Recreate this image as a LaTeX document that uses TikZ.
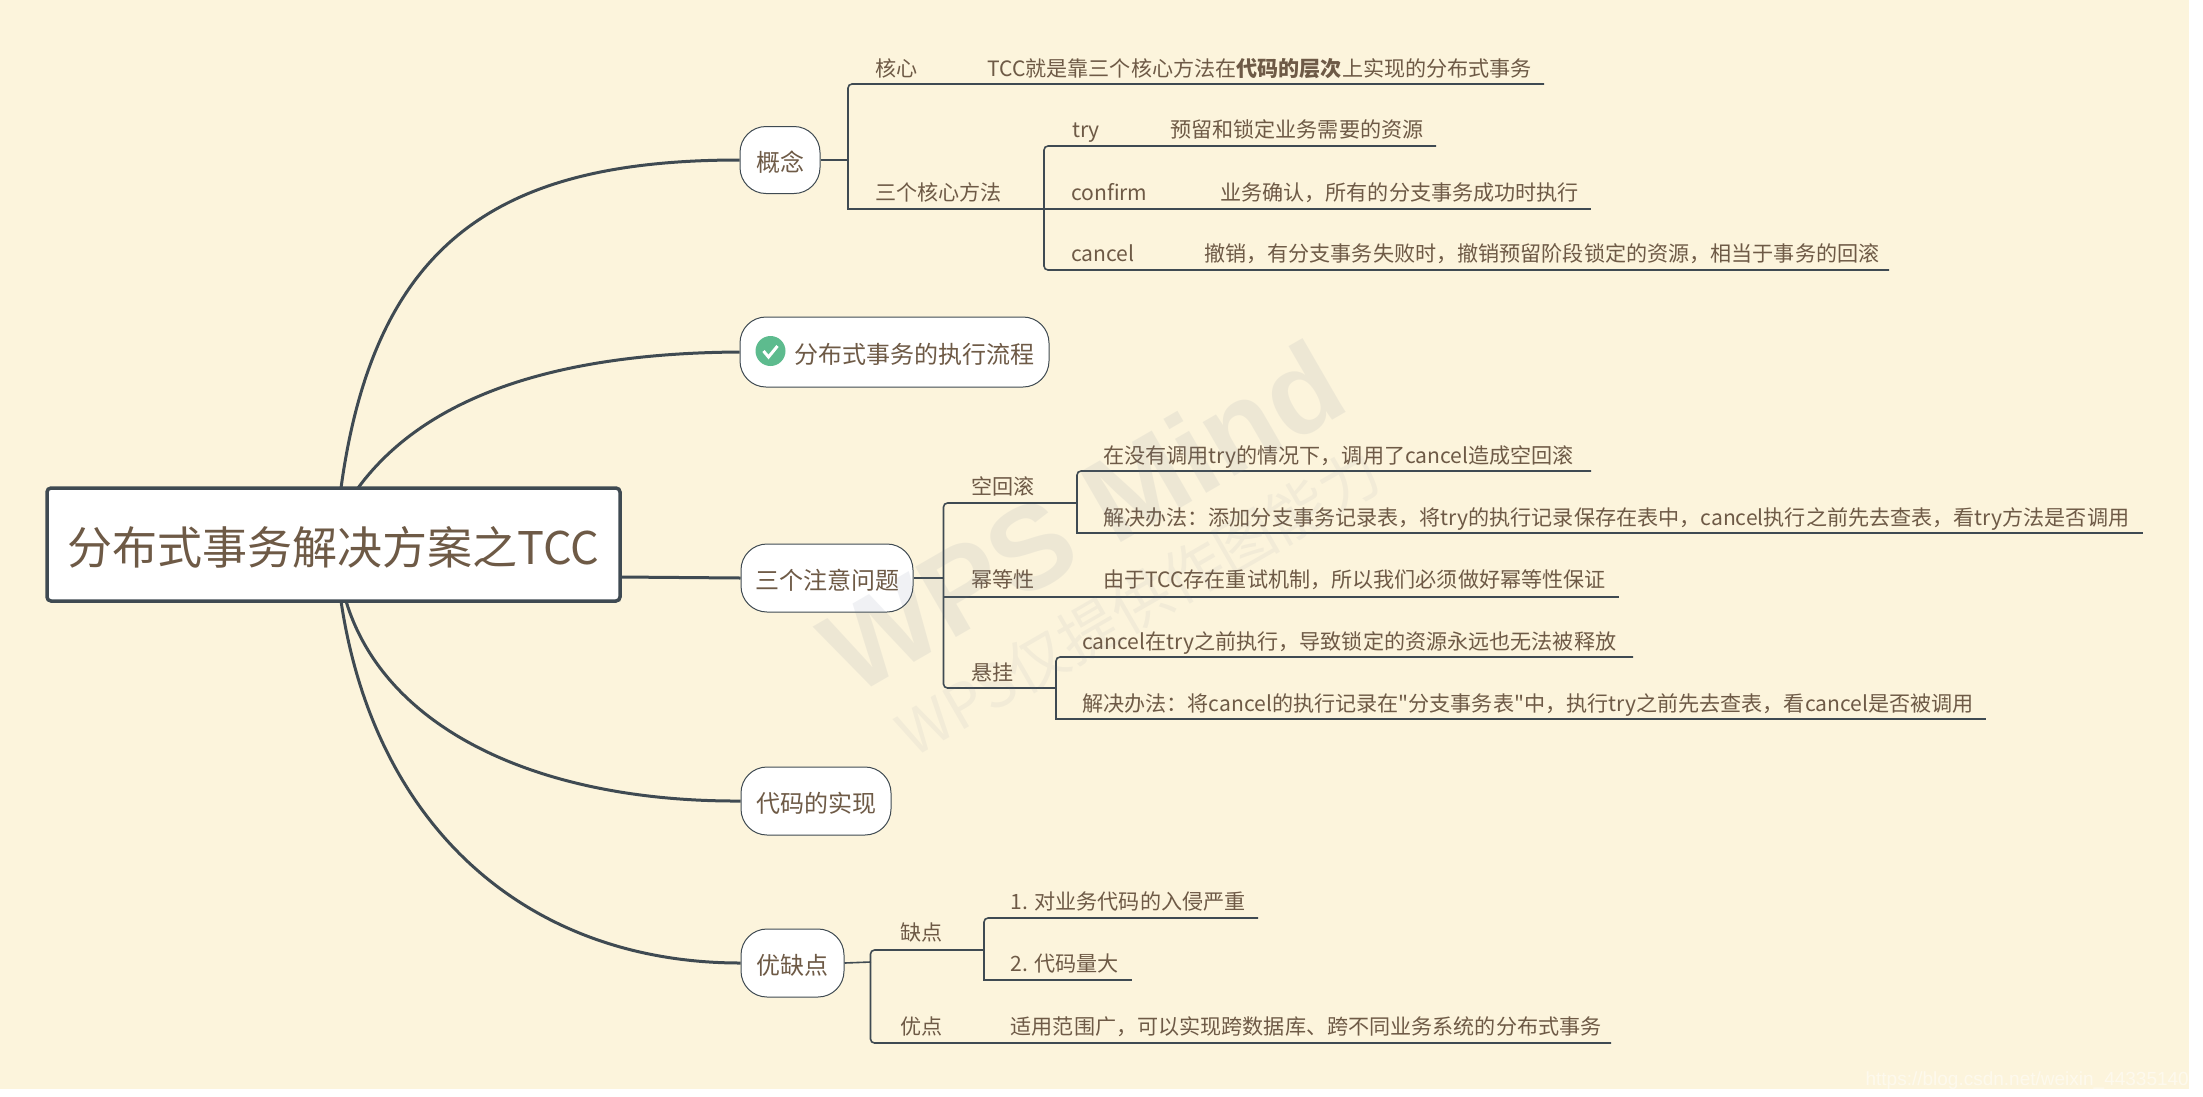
\documentclass[tikz,border=0pt]{standalone}
\usepackage{fontspec}
\setmainfont{Noto Sans CJK SC}[Ligatures=TeXOff]
\newfontfamily\wmfont{Liberation Sans}
\definecolor{paper}{HTML}{FCF4DC}
\definecolor{ink}{HTML}{6E5A46}
\definecolor{slate}{HTML}{3F4A52}
\definecolor{okgreen}{HTML}{5DBB8E}
\definecolor{wmark}{HTML}{707C96}
\tikzset{
    rootbox/.style={draw=slate, line width=3.5pt, fill=white, rounded corners=4pt, inner sep=0pt, text=ink, text height=43pt, text depth=4pt, font=\fontsize{45}{50}\selectfont},
    topic/.style={draw=slate, line width=1pt, fill=white, rounded corners=26pt, inner sep=0pt, text=ink, text height=25pt, text depth=3pt, font=\fontsize{24}{28}\selectfont},
    leaf/.style={anchor=base west, inner sep=0pt, text=ink, font=\fontsize{21.1}{25}\selectfont},
    trunk/.style={draw=slate, line width=3pt},
    branch/.style={draw=slate, line width=1.6pt},
    wm/.style={text=wmark, text opacity=0.1, inner sep=0pt, anchor=base, rotate=30}
}
\begin{document}
\begin{tikzpicture}[x=1pt, y=-1pt]
    \useasboundingbox (0,0) rectangle (2203,1096);
    \fill [paper] (0,0) rectangle (2189,1089);

    % Centre
    \node [rootbox, minimum width=573pt, minimum height=113pt] (root) at (333.5,544.5) {分布式事务解决方案之TCC};

    % Branches
    \node [topic, minimum width=80pt, minimum height=67pt] (gn) at (780,160) {概念};
    \node [topic, minimum width=309pt, minimum height=70pt] (lc) at (894.5,352) {\hspace*{40pt}分布式事务的执行流程};
    \node [topic, minimum width=172pt, minimum height=68pt] (zy) at (827,578) {三个注意问题};
    \node [topic, minimum width=150pt, minimum height=68pt] (sx) at (816,801) {代码的实现};
    \node [topic, minimum width=103pt, minimum height=68pt] (yq) at (792.5,963) {优缺点};

    % Icon
    \node [circle, fill=okgreen, minimum size=30pt, inner sep=0pt] (ok) at (770.5,351) {};
    \draw [white, line width=3pt] (ok) ++(-7,0) -- ++(5,6) -- ++(9,-11);

    % Curves from the centre
    \coordinate (rootA) at (341,488);
    \coordinate (rootB) at (358,488);
    \coordinate (rootE) at (620,577);
    \coordinate (rootC) at (346,601);
    \coordinate (rootD) at (341,601);
    \draw [trunk] (rootA) .. controls (375,240) and (500,160) .. (gn.west);
    \draw [trunk] (rootB) .. controls (430,390) and (570,353) .. (lc.west);
    \draw [trunk] (rootE) -- (zy.west);
    \draw [trunk] (rootC) .. controls (385,730) and (540,802) .. (sx.west);
    \draw [trunk] (rootD) .. controls (375,830) and (530,963) .. (yq.west);

    % Concept
    \coordinate (gnJ) at (848,160);
    \coordinate (hxL) at (848,84);
    \coordinate (hxR) at (1544,84);
    \coordinate (sfL) at (848,209);
    \coordinate (sfR) at (1044,209);
    \coordinate (tryL) at (1044,146);
    \coordinate (tryR) at (1436,146);
    \coordinate (cfmR) at (1591,209);
    \coordinate (cclL) at (1044,270);
    \coordinate (cclR) at (1889,270);
    \draw [branch] (gn.east) -- (gnJ);
    \draw [branch, rounded corners=4pt] (hxR) -- (hxL) -- (gnJ);
    \draw [branch] (gnJ) -- (sfL) -- (sfR);
    \draw [branch, rounded corners=4pt] (tryR) -- (tryL) -- (sfR);
    \draw [branch, rounded corners=4pt] (sfR) -- (cclL) -- (cclR);
    \draw [branch] (sfR) -- (cfmR);
    \node [leaf] (hx) at (875,76) {核心};
    \node [leaf] (hxT) at (987,76) {TCC就是靠三个核心方法在\textbf{代码的层次}上实现的分布式事务};
    \node [leaf] (sf) at (875,200) {三个核心方法};
    \node [leaf] (try) at (1072,137) {try};
    \node [leaf] (tryT) at (1170,137) {预留和锁定业务需要的资源};
    \node [leaf] (cfm) at (1071,200) {confirm};
    \node [leaf] (cfmT) at (1220,200) {业务确认，所有的分支事务成功时执行};
    \node [leaf] (ccl) at (1071,261) {cancel};
    \node [leaf] (cclT) at (1204,261) {撤销，有分支事务失败时，撤销预留阶段锁定的资源，相当于事务的回滚};

    % Three issues
    \coordinate (zyJ) at (943.5,578);
    \coordinate (khL) at (943.5,503);
    \coordinate (khR) at (1077,503);
    \coordinate (mdL) at (943.5,597);
    \coordinate (mdR) at (1619,597);
    \coordinate (xgL) at (943.5,688);
    \coordinate (xgR) at (1056,688);
    \coordinate (kaL) at (1077,471);
    \coordinate (kaR) at (1591,471);
    \coordinate (kbL) at (1077,533);
    \coordinate (kbR) at (2143,533);
    \coordinate (xaL) at (1056,657);
    \coordinate (xaR) at (1633,657);
    \coordinate (xbL) at (1056,719);
    \coordinate (xbR) at (1986,719);
    \draw [branch] (zy.east) -- (zyJ);
    \draw [branch, rounded corners=4pt] (khR) -- (khL) -- (zyJ);
    \draw [branch, rounded corners=4pt] (zyJ) -- (xgL) -- (xgR);
    \draw [branch] (mdL) -- (mdR);
    \draw [branch, rounded corners=4pt] (kaR) -- (kaL) -- (khR);
    \draw [branch] (khR) -- (kbL) -- (kbR);
    \draw [branch, rounded corners=4pt] (xaR) -- (xaL) -- (xgR);
    \draw [branch] (xgR) -- (xbL) -- (xbR);
    \node [leaf] (kh) at (971,494) {空回滚};
    \node [leaf] (md) at (971,587) {幂等性};
    \node [leaf] (xg) at (971,680) {悬挂};
    \node [leaf] (ka) at (1103,463) {在没有调用try的情况下，调用了cancel造成空回滚};
    \node [leaf] (kb) at (1103,525) {解决办法：添加分支事务记录表，将try的执行记录保存在表中，cancel执行之前先去查表，看try方法是否调用};
    \node [leaf] (mdT) at (1103,587) {由于TCC存在重试机制，所以我们必须做好幂等性保证};
    \node [leaf] (xa) at (1082,649) {cancel在try之前执行，导致锁定的资源永远也无法被释放};
    \node [leaf] (xb) at (1082,711) {解决办法：将cancel的执行记录在"分支事务表"中，执行try之前先去查表，看cancel是否被调用};

    % Pros and cons
    \coordinate (yqJ) at (870.5,962);
    \coordinate (qdL) at (870.5,950);
    \coordinate (qdR) at (984,950);
    \coordinate (ydL) at (870.5,1043);
    \coordinate (ydR) at (1611,1043);
    \coordinate (qaL) at (984,918);
    \coordinate (qaR) at (1258,918);
    \coordinate (qbL) at (984,980);
    \coordinate (qbR) at (1132,980);
    \draw [branch] (yq.east) -- (yqJ);
    \draw [branch, rounded corners=4pt] (qdR) -- (qdL) -- (yqJ);
    \draw [branch, rounded corners=4pt] (yqJ) -- (ydL) -- (ydR);
    \draw [branch, rounded corners=4pt] (qaR) -- (qaL) -- (qdR);
    \draw [branch] (qdR) -- (qbL) -- (qbR);
    \node [leaf] (qd) at (900,940) {缺点};
    \node [leaf] (yd) at (900,1034) {优点};
    \node [leaf] (qa) at (1010.5,909) {1. 对业务代码的入侵严重};
    \node [leaf] (qb) at (1010.5,971) {2. 代码量大};
    \node [leaf] (ydT) at (1010.5,1034) {适用范围广，可以实现跨数据库、跨不同业务系统的分布式事务};

    % Watermarks
    \node [wm, font=\wmfont\bfseries\fontsize{118}{124}\selectfont] (wma) at (1103,553) {WPS Mind};
    \node [wm, text opacity=0.07, font=\fontsize{60}{64}\selectfont] (wmb) at (1150,622) {WPS仅提供作图能力};
    \node [anchor=base east, inner sep=0pt, text=white, text opacity=0.5, font=\wmfont\fontsize{19}{22}\selectfont] (url) at (2189,1085) {https://blog.csdn.net/weixin\_44335140};
\end{tikzpicture}
\end{document}
